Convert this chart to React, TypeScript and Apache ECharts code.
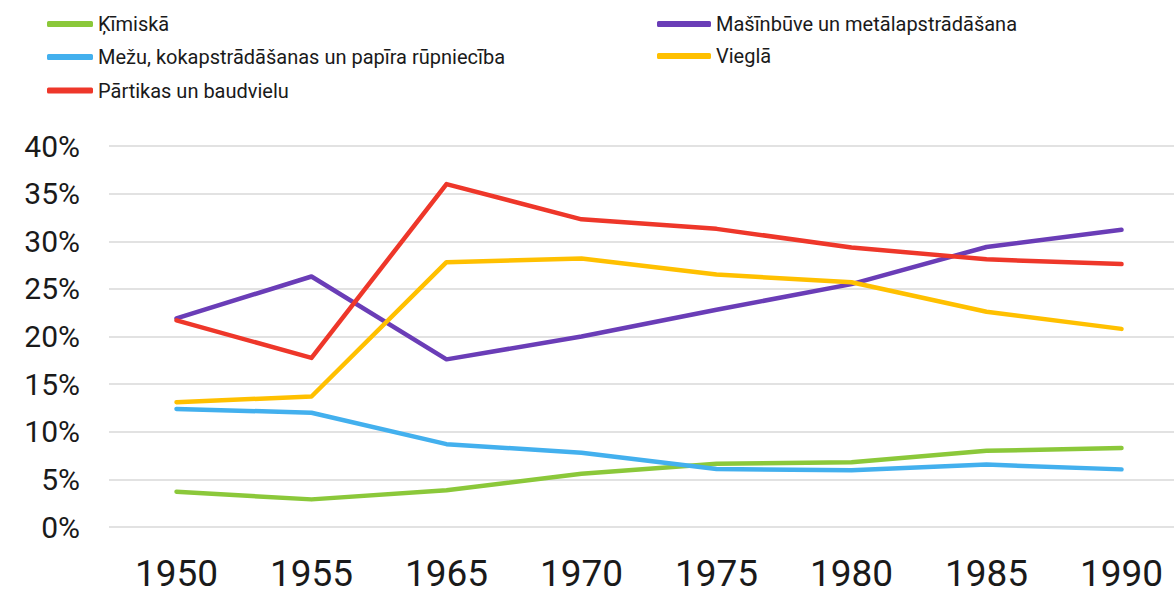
import React, { useEffect, useRef } from "react";
import * as echarts from "echarts";

const years = ["1950", "1955", "1965", "1970", "1975", "1980", "1985", "1990"];
const kimiska = [3.7, 2.9, 3.85, 5.6, 6.65, 6.8, 8.0, 8.3];
const masinbuve = [21.9, 26.3, 17.6, 20.0, 22.8, 25.5, 29.4, 31.2];
const mezu = [12.4, 12.0, 8.7, 7.8, 6.1, 5.95, 6.55, 6.05];
const viegla = [13.1, 13.7, 27.8, 28.2, 26.5, 25.7, 22.6, 20.8];
const partikas = [21.7, 17.75, 36.0, 32.3, 31.3, 29.35, 28.1, 27.6];

const names = {
  kim: "Ķīmiskā",
  mas: "Mašīnbūve un metālapstrādāšana",
  mez: "Mežu, kokapstrādāšanas un papīra rūpniecība",
  vie: "Vieglā",
  par: "Pārtikas un baudvielu",
};
const colors = {
  kim: "#8BC83A",
  mas: "#6A3DB7",
  mez: "#43B0EE",
  vie: "#FFC000",
  par: "#EE372A",
};

const FONT = "Roboto, 'Noto Sans', sans-serif";

export default function App() {
  const ref = useRef<HTMLDivElement>(null);
  useEffect(() => {
    document.body.style.margin = "0";
    if (!ref.current) return;
    const chart = echarts.init(ref.current, null, { renderer: "svg" });
    const mk = (key: keyof typeof names, data: number[]) => ({
      name: names[key],
      type: "line",
      data,
      symbol: "none",
      lineStyle: { color: colors[key], width: 4.5, cap: "round", join: "round" },
      itemStyle: { color: colors[key] },
    });
    const leg = (name: string, left: number, top: number, itemWidth: number) => ({
      orient: "vertical",
      left,
      top,
      padding: 0,
      itemWidth,
      itemHeight: 6,
      icon: "roundRect",
      data: [name],
      textStyle: { fontFamily: FONT, fontSize: 20, color: "#1a1a1a", lineHeight: 22 },
    });
    chart.setOption({
      animation: false,
      backgroundColor: "#ffffff",
      legend: [
        leg(names.kim, 47, 13, 46),
        leg(names.mez, 47, 46, 46),
        leg(names.par, 47, 79.5, 46),
        leg(names.mas, 657, 13, 54),
        leg(names.vie, 657, 45, 54),
      ],
      grid: { left: 109, right: -15, top: 146, bottom: 64, containLabel: false, outerBoundsMode: "none" },
      xAxis: {
        type: "category",
        data: years,
        boundaryGap: true,
        axisLine: { show: false },
        axisTick: { show: false },
        axisLabel: { fontFamily: FONT, fontSize: 37, lineHeight: 37, color: "#1a1a1a", margin: 28 },
      },
      yAxis: {
        type: "value",
        min: 0,
        max: 40,
        interval: 5,
        axisLine: { show: false },
        axisTick: { show: false },
        axisLabel: {
          fontFamily: FONT,
          fontSize: 30,
          color: "#1a1a1a",
          margin: 29,
          formatter: (v: number) => `${v}%`,
        },
        splitLine: { lineStyle: { color: "#d9d9d9", width: 1.5 } },
      },
      series: [
        mk("kim", kimiska),
        mk("mas", masinbuve),
        mk("mez", mezu),
        mk("vie", viegla),
        mk("par", partikas),
      ],
    });
    return () => chart.dispose();
  }, []);
  return <div ref={ref} style={{ width: 1174, height: 591 }} />;
}
